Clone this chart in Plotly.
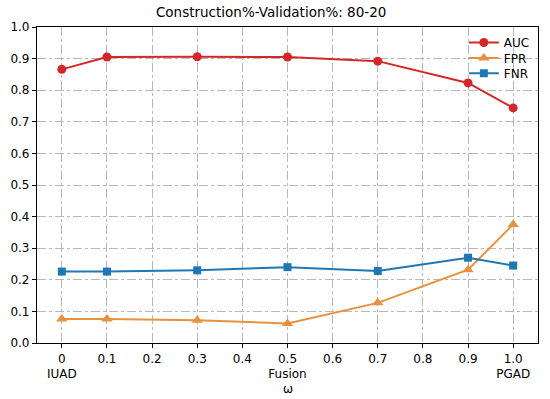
import plotly.graph_objects as go

omega = [0, 0.1, 0.3, 0.5, 0.7, 0.9, 1.0]
auc = [0.866, 0.905, 0.906, 0.905, 0.892, 0.823, 0.744]
fpr = [0.076, 0.076, 0.072, 0.062, 0.127, 0.232, 0.375]
fnr = [0.226, 0.226, 0.230, 0.240, 0.228, 0.270, 0.245]

xtick_vals = [0, 0.1, 0.2, 0.3, 0.4, 0.5, 0.6, 0.7, 0.8, 0.9, 1.0]
xtick_text = ["0<br>IUAD", "0.1", "0.2", "0.3", "0.4", "0.5<br>Fusion", "0.6", "0.7", "0.8", "0.9", "1.0<br>PGAD"]
ytick_vals = [0.0, 0.1, 0.2, 0.3, 0.4, 0.5, 0.6, 0.7, 0.8, 0.9, 1.0]
ytick_text = ["0.0", "0.1", "0.2", "0.3", "0.4", "0.5", "0.6", "0.7", "0.8", "0.9", "1.0"]

fig = go.Figure()
fig.add_trace(go.Scatter(x=omega, y=auc, name="AUC", mode="lines+markers", legend="legend",
                         line=dict(color="#d62728", width=2),
                         marker=dict(symbol="circle", size=9, color="#d62728")))
fig.add_trace(go.Scatter(x=omega, y=fpr, name="FPR", mode="lines+markers", legend="legend2",
                         line=dict(color="#e8913f", width=2),
                         marker=dict(symbol="triangle-up", size=10, color="#e8913f")))
fig.add_trace(go.Scatter(x=omega, y=fnr, name="FNR", mode="lines+markers", legend="legend3",
                         line=dict(color="#1f77b4", width=2),
                         marker=dict(symbol="square", size=8, color="#1f77b4")))

axis_common = dict(showline=True, linecolor="black", linewidth=1.2, mirror=True,
                   ticks="outside", ticklen=4, tickcolor="black",
                   showgrid=True, gridcolor="#b8b8b8", gridwidth=1,
                   griddash="dashdot", zeroline=False, automargin=False,
                   tickfont=dict(size=12, color="black"))

fig.update_xaxes(range=[-0.055, 1.055], tickvals=xtick_vals, ticktext=xtick_text,
                 **axis_common)
fig.update_yaxes(range=[0, 1.0], tickvals=ytick_vals, ticktext=ytick_text, **axis_common)

fig.add_annotation(text="ω", x=0.5, y=-0.145, xref="paper", yref="paper",
                   xanchor="center", yanchor="middle", showarrow=False,
                   font=dict(size=12, color="black"))

leg_common = dict(x=0.852, xanchor="left", yanchor="middle",
                  bgcolor="rgba(255,255,255,0)", font=dict(size=12),
                  itemwidth=30, tracegroupgap=0, borderwidth=0)

fig.update_layout(
    width=550, height=399,
    margin=dict(l=37, r=12, t=27, b=56),
    paper_bgcolor="white", plot_bgcolor="white",
    font=dict(family="DejaVu Sans", size=12, color="black"),
    title=dict(text="Construction%-Validation%: 80-20", x=0.493, xanchor="center",
               y=0.97, yanchor="middle", font=dict(size=13.5, color="black")),
    legend=dict(y=0.951, **leg_common),
    legend2=dict(y=0.902, **leg_common),
    legend3=dict(y=0.854, **leg_common),
    showlegend=True,
)

fig.write_html("out.html", config={"displayModeBar": False},
               post_script="document.body.style.margin='0';document.body.style.overflow='hidden';")
